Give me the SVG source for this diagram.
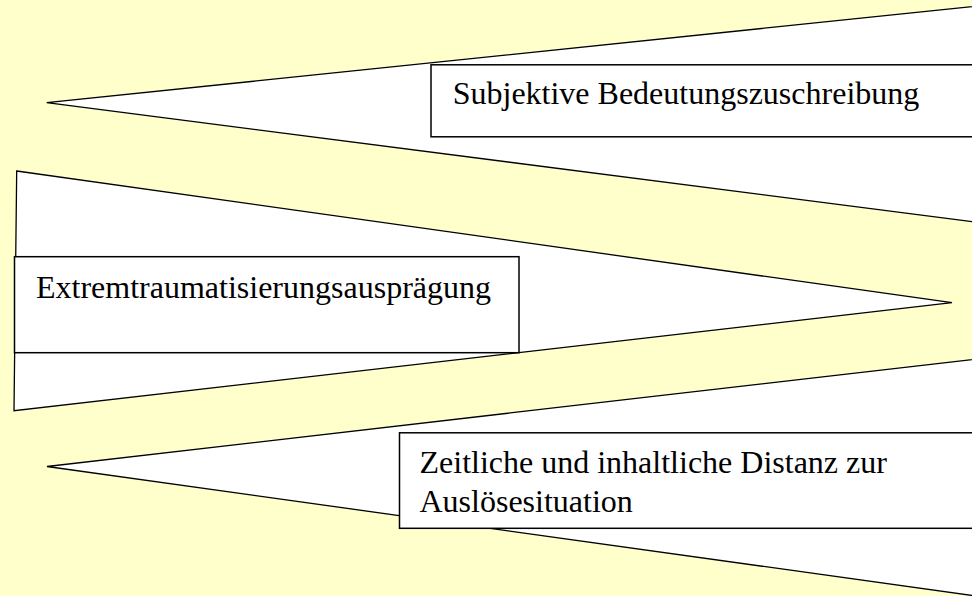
<svg xmlns="http://www.w3.org/2000/svg" width="972" height="596" viewBox="0 0 972 596">
  <style>
    .wedge { fill: #ffffff; stroke: #000000; stroke-width: 1.3; stroke-linejoin: miter; }
    .box { fill: #ffffff; stroke: #000000; stroke-width: 1.5; }
    .label { font-family: "Liberation Serif", "Times New Roman", serif; font-size: 32px; fill: #000000; }
  </style>
  <rect x="0" y="0" width="972" height="596" fill="#ffffcc"/>
  <g id="wedge-top">
    <polygon class="wedge" points="46.7,102.7 990,4.8 990,224"/>
  </g>
  <g id="wedge-middle">
    <polygon class="wedge" points="16.7,171 952,302.7 14,410.7"/>
  </g>
  <g id="wedge-bottom">
    <polygon class="wedge" points="47,466.5 990,357.5 990,598"/>
  </g>
  <g id="node-subjektive">
    <rect class="box" x="431" y="64.8" width="560" height="72"/>
    <text class="label" x="452.7" y="104">Subjektive Bedeutungszuschreibung</text>
  </g>
  <g id="node-extremtraumatisierung">
    <rect class="box" x="14.5" y="256.7" width="504.5" height="96"/>
    <text class="label" x="36" y="298">Extremtraumatisierungsausprägung</text>
  </g>
  <g id="node-distanz">
    <rect class="box" x="399.5" y="432.8" width="590" height="95.5"/>
    <text class="label" x="419.5" y="473.3">Zeitliche und inhaltliche Distanz zur</text>
    <text class="label" x="419.5" y="511.7">Auslösesituation</text>
  </g>
</svg>
